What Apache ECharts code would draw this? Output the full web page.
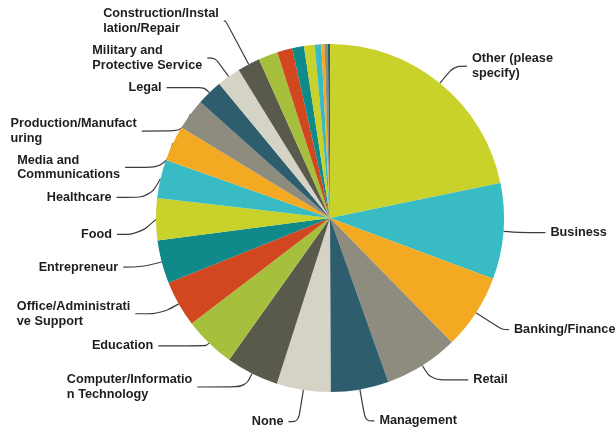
<!DOCTYPE html>
<html>
<head>
<meta charset="utf-8">
<script src="https://cdn.jsdelivr.net/npm/echarts@6/dist/echarts.min.js"></script>
<style>
  html, body { margin: 0; padding: 0; background: #ffffff; }
  #chart { width: 616px; height: 432px; }
</style>
</head>
<body>
<div id="chart"></div>
<script>
// Occupation categories, clockwise from 12 o'clock (line breaks as drawn in the labels).
// Blank names are the small slices that carry no label.
const categories = [
  'Other (please\nspecify)',
  'Business',
  'Banking/Finance',
  'Retail',
  'Management',
  'None',
  'Computer/Informatio\nn Technology',
  'Education',
  'Office/Administrati\nve Support',
  'Entrepreneur',
  'Food',
  'Healthcare',
  'Media and\nCommunications',
  'Production/Manufact\nuring',
  'Legal',
  'Military and\nProtective Service',
  'Construction/Instal\nlation/Repair',
  '', '', '', '', '', '', '', ''
];

// Share of respondents, percent.
const shares = [
  21.8, 8.9, 7.0, 6.9, 5.4, 5.0, 4.9, 4.8, 4.3, 4.0,
  3.9, 3.6, 3.3, 2.9, 2.4, 2.2, 2.1,
  1.8, 1.4, 1.1, 1.0, 0.6, 0.3, 0.3, 0.2
];

// Ten-colour theme, repeated around the pie.
const palette = [
  '#C9D12B', '#38BBC3', '#F3AA22', '#8D8C7E', '#2E5E6D',
  '#D5D3C5', '#59594C', '#A6C03D', '#D1471F', '#0F898A'
];

// Leader line segment lengths [radial, horizontal] for each labelled slice.
const leaderLengths = [
  [22, 13], [16, 26], [31, 7], [17, 37], [32, 9], [32, 10],
  [15, 48], [4, 48], [20, 26], [20, 19], [12, 22], [6, 33],
  [2, 41], [2, 42], [7, 38], [23, 8], [49, 2]
];

// Extra downward spacing for the crowded labels on the left-hand side.
const labelDrop = { 10: 15, 11: 20, 12: 25, 13: 18 };

const labelFont = {
  fontFamily: '"Liberation Sans", Arial, sans-serif',
  fontSize: 12.7,
  fontWeight: 'bold',
  color: '#1e1e1e',
  lineHeight: 14.5
};

const pieData = categories.map((name, i) => {
  const item = { name: name, value: shares[i] };
  if (!name) {
    item.label = { show: false };
    item.labelLine = { show: false };
  } else {
    item.labelLine = { length: leaderLengths[i][0], length2: leaderLengths[i][1] };
    // re-routed leaders attach to the label box, so keep a small gap before the text
    if (labelDrop[i]) item.label = { padding: [0, 5, 0, 0] };
  }
  return item;
});

const chart = echarts.init(document.getElementById('chart'), null, { renderer: 'canvas' });

chart.setOption({
  animation: false,
  color: palette,
  series: [{
    type: 'pie',
    center: [330, 218],
    radius: 174,
    startAngle: 90,
    clockwise: true,
    avoidLabelOverlap: false,
    itemStyle: { borderWidth: 0 },
    label: {
      show: true,
      position: 'outside',
      // each line starts at the same left edge, as in the label blocks
      formatter: p => p.name.split('\n').map(s => '{t|' + s + '}').join('\n'),
      rich: { t: Object.assign({ align: 'left' }, labelFont) },
      ...labelFont
    },
    labelLine: {
      show: true,
      smooth: 0.35,
      lineStyle: { color: '#3c3c3c', width: 1.2 }
    },
    // moving a label by y makes ECharts re-route its leader line
    labelLayout: p => {
      const drop = labelDrop[p.dataIndex];
      if (!drop) return {};
      return { y: p.labelRect.y + p.labelRect.height / 2 + drop };
    },
    data: pieData
  }]
});
</script>
</body>
</html>
